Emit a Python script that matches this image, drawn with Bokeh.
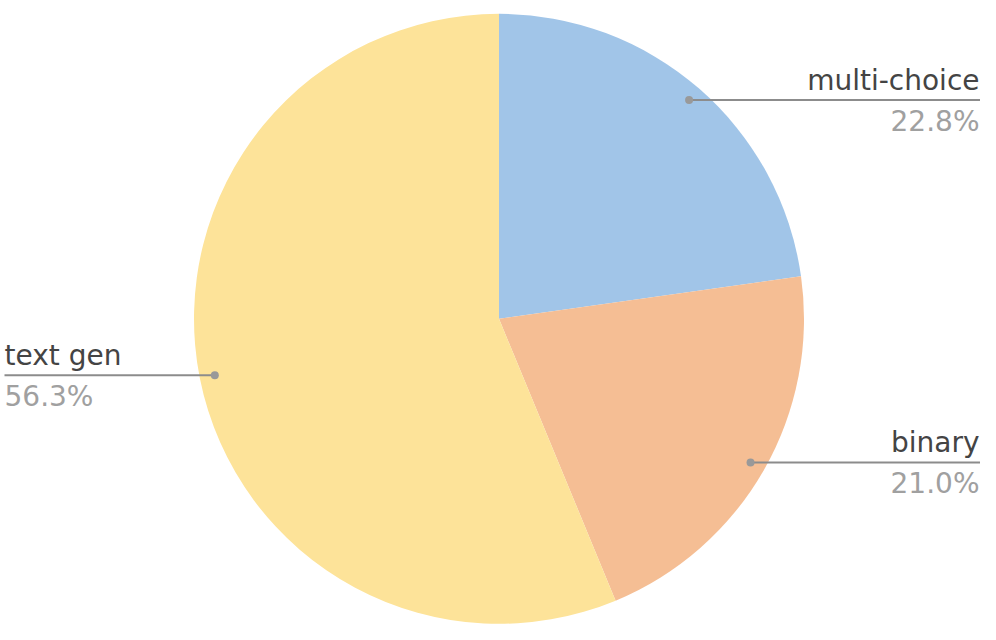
import math
from bokeh.plotting import figure
from bokeh.models import Range1d, ColumnDataSource
from bokeh.core.properties import value
from bokeh.embed import file_html
from bokeh.resources import INLINE

categories = ["multi-choice", "binary", "text gen"]
shares = [22.8, 21.0, 56.3]
colors = ["#A1C5E8", "#F5BE94", "#FDE399"]

W, H = 980, 624
cx, cy = 498.5, H - 318.3
R = 305.0
R_DOT = 0.95 * R
FONT = value("DejaVu Sans")

p = figure(width=W, height=H, output_backend="svg", toolbar_location=None,
           x_range=Range1d(0, W), y_range=Range1d(0, H), min_border=0)
p.axis.visible = False
p.grid.visible = False
p.outline_line_color = None

total = sum(shares)
starts, ends, mids = [], [], []
a = math.pi / 2
for v in shares:
    span = v / total * 2 * math.pi
    starts.append(a)
    ends.append(a - span)
    mids.append(a - span / 2)
    a -= span

src = ColumnDataSource(dict(start=starts, end=ends, color=colors))
p.wedge(x=cx, y=cy, radius=R, start_angle="start", end_angle="end",
        direction="clock", fill_color="color", line_color=None, source=src)

for cat, v, m in zip(categories, shares, mids):
    dx = cx + R_DOT * math.cos(m)
    dy = cy + R_DOT * math.sin(m)
    right = math.cos(m) >= 0
    x_end = W if right else 4
    tx = W - 1 if right else 4
    align = "right" if right else "left"
    p.line([dx, x_end], [dy, dy], line_color="#8C8C8C", line_width=2)
    p.scatter([dx], [dy], size=8, fill_color="#999999", line_color=None)
    p.text([tx], [dy + 20], text=[cat], text_font=FONT, text_font_size="28px",
           text_color="#444444", text_align=align, text_baseline="alphabetic")
    p.text([tx], [dy - 21], text=[f"{v:.1f}%"], text_font=FONT, text_font_size="28px",
           text_color="#A0A0A0", text_align=align, text_baseline="alphabetic")

open("out.html", "w").write(file_html(p, INLINE))
